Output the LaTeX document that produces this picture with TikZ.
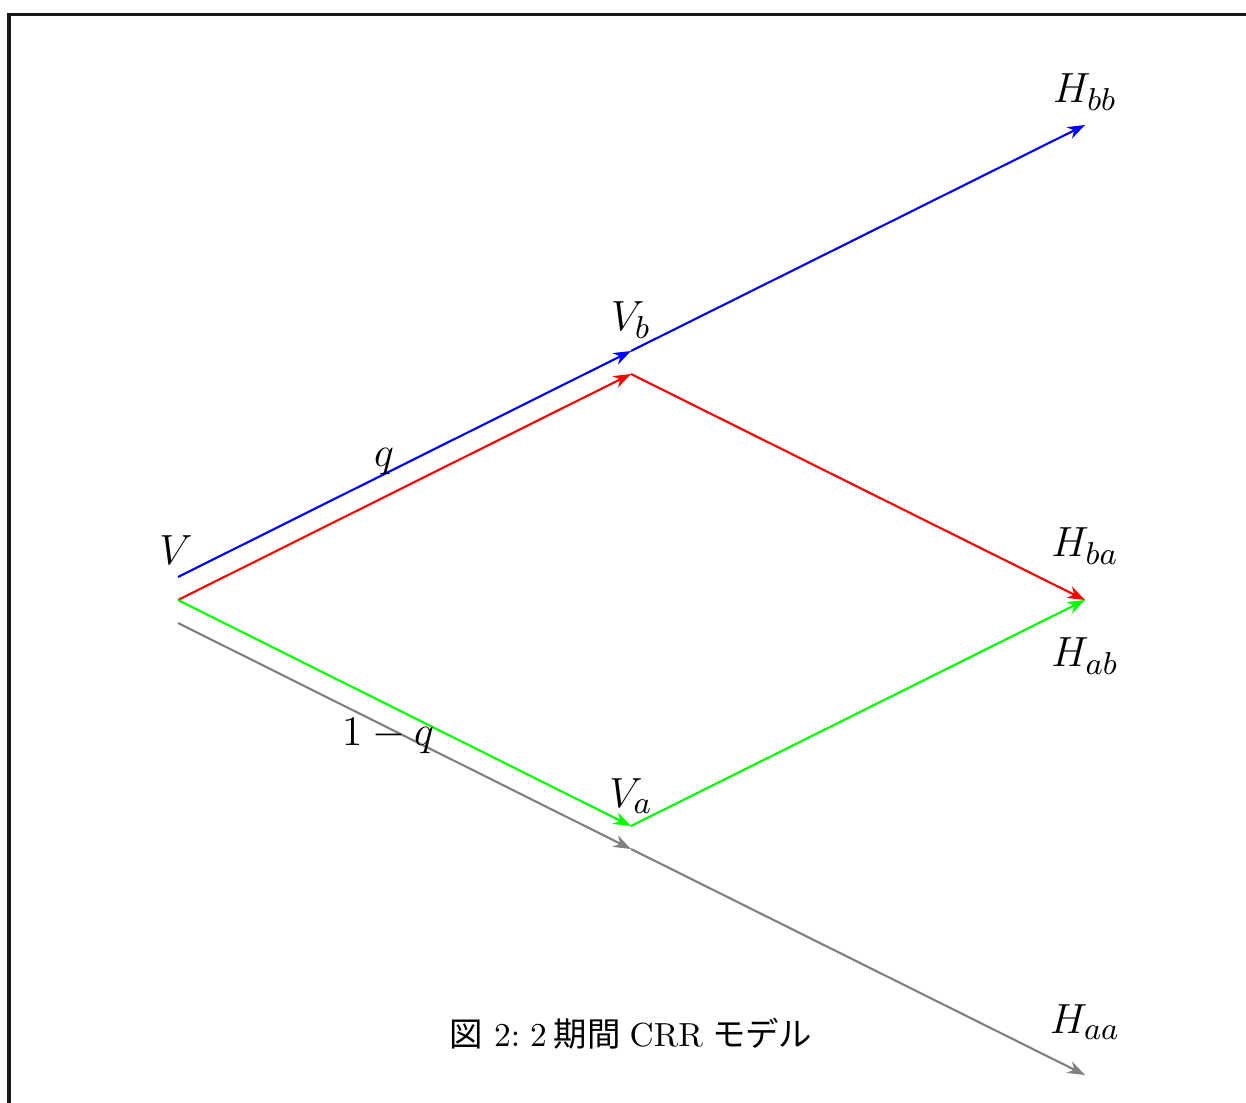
\documentclass[tikz,border=0pt]{standalone}
\usepackage{fontspec}
\newfontfamily\jpfont{Noto Sans CJK JP}
\usepackage{tikz}
\usetikzlibrary{arrows.meta, positioning}
\tikzset{
  lbl/.style={font=\fontsize{13.2}{16}\selectfont, inner sep=0pt, anchor=base},
  captxt/.style={font=\fontsize{9.5}{11}\selectfont, inner sep=0pt, anchor=base},
  branch/.style={-{Stealth[length=5pt, width=3.6pt, inset=1.6pt]}, line width=0.6pt},
  upb/.style={branch, blue},
  upr/.style={branch, red},
  dng/.style={branch, green},
  dngr/.style={branch, gray},
}

\begin{document}
\begin{tikzpicture}
  \useasboundingbox (0,0) rectangle (12.46,-11.03);
  \draw[line width=0.9pt, black!90] (0.09,-11.2) -- (0.09,-0.147) -- (12.6,-0.147);

  % tree points
  \coordinate (V)   at (1.78,-6.00);
  \coordinate (Vb)  at (6.31,-3.74);
  \coordinate (Va)  at (6.31,-8.26);
  \coordinate (Hm)  at (10.85,-6.00);
  % shifted copies for the outer paths
  \coordinate (V1)  at (1.78,-5.77);
  \coordinate (Vb1) at (6.31,-3.51);
  \coordinate (Hbb) at (10.85,-1.25);
  \coordinate (V2)  at (1.78,-6.23);
  \coordinate (Va2) at (6.31,-8.49);
  \coordinate (Haa) at (10.85,-10.75);

  \draw[upb]  (V1) -- (Vb1);
  \draw[upb]  (Vb1) -- (Hbb);
  \draw[upr]  (V) -- (Vb);
  \draw[upr]  (Vb) -- (Hm);
  \draw[dng]  (V) -- (Va);
  \draw[dng]  (Va) -- (Hm);
  \draw[dngr] (V2) -- (Va2);
  \draw[dngr] (Va2) -- (Haa);

  \node[lbl] (lV)   at (1.76,-5.65)  {$V$};
  \node[lbl] (lVb)  at (6.31,-3.31)  {$V_b$};
  \node[lbl] (lVa)  at (6.31,-8.07)  {$V_a$};
  \node[lbl] (lHbb) at (10.85,-1.03) {$H_{bb}$};
  \node[lbl] (lHba) at (10.85,-5.57) {$H_{ba}$};
  \node[lbl] (lHab) at (10.85,-6.67) {$H_{ab}$};
  \node[lbl] (lHaa) at (10.85,-10.33) {$H_{aa}$};
  \node[lbl] (lq)   at (3.84,-4.67)  {$q$};
  \node[lbl] (lnq)  at (3.88,-7.45)  {$1-q$};

  \node[captxt] (caption) at (6.31,-10.47)
    {{\jpfont 図}~2:\hspace{2.8pt}2\hspace{2pt}{\jpfont 期間}\hspace{2.6pt}CRR\hspace{2.6pt}{\jpfont モデル}};
\end{tikzpicture}
\end{document}
